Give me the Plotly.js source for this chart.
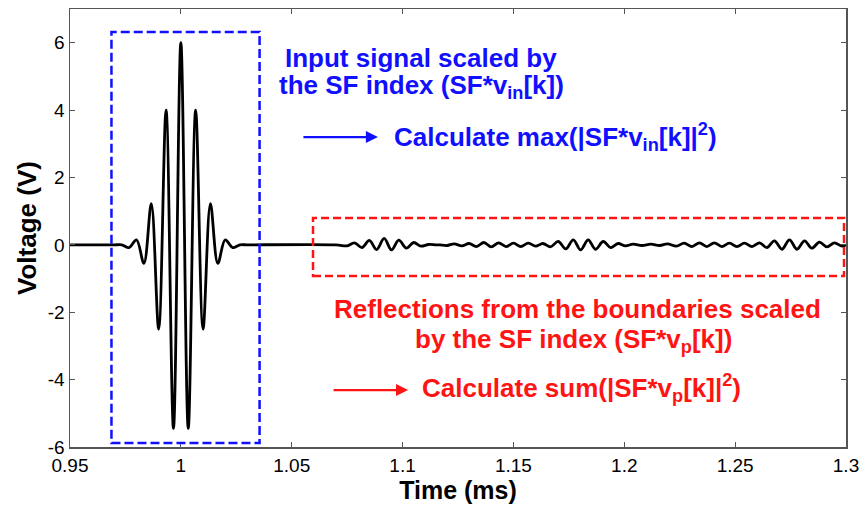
<!DOCTYPE html>
<html>
<head>
<meta charset="utf-8">
<script src="https://cdn.plot.ly/plotly-3.0.1.min.js"></script>
<style>
  html, body { margin: 0; padding: 0; background: #fff; }
  #chart { width: 865px; height: 508px; }
</style>
</head>
<body>
<div id="chart"></div>
<script>
// Received voltage: input burst near 1 ms, then boundary reflections (extrema of the trace)
const timeMs = [
  0.95, 0.97, 0.97333, 0.97667, 0.98, 0.98333, 0.98667, 0.99, 0.99333, 0.99667,
  1.0, 1.00333, 1.00667, 1.01, 1.01333, 1.01667, 1.02, 1.02333, 1.02667, 1.03,
  1.07, 1.075, 1.0783, 1.0817, 1.085, 1.0883, 1.0917, 1.095, 1.0983, 1.1017,
  1.105, 1.1083, 1.1117, 1.115, 1.1167, 1.12, 1.1233, 1.1267, 1.13, 1.1333,
  1.1367, 1.14, 1.1433, 1.1467, 1.15, 1.1533, 1.1567, 1.16, 1.1633, 1.1667,
  1.1702, 1.1736, 1.177, 1.1803, 1.1837, 1.187, 1.1905, 1.1938, 1.1972, 1.2005,
  1.204, 1.208, 1.212, 1.216, 1.2195, 1.2235, 1.227, 1.2305, 1.2339, 1.2372,
  1.2406, 1.244, 1.2474, 1.2508, 1.2542, 1.2576, 1.261, 1.2643, 1.2677, 1.2711,
  1.2745, 1.2779, 1.2813, 1.2846, 1.288, 1.2914, 1.2948, 1.2982, 1.3
];
const voltage = [
  0, 0, 0, -0.08, 0.15, -0.55, 1.22, -2.5, 4.0, -5.45,
  6.0, -5.45, 4.0, -2.5, 1.22, -0.55, 0.15, -0.08, 0, 0,
  0, -0.03, 0.06, -0.08, 0.13, -0.14, 0.19, -0.15, 0.14, -0.1,
  0.07, -0.04, 0.01, 0, 0, -0.02, 0.03, -0.03, 0.04, -0.05,
  0.07, -0.06, 0.06, -0.05, 0.05, -0.05, 0.05, -0.04, 0.04, -0.06,
  0.1, -0.12, 0.15, -0.15, 0.15, -0.13, 0.1, -0.08, 0.04, -0.03,
  0.02, -0.02, 0.02, -0.02, 0.03, -0.04, 0.05, -0.05, 0.06, -0.05,
  0.06, -0.05, 0.05, -0.05, 0.05, -0.05, 0.06, -0.08, 0.12, -0.13,
  0.15, -0.13, 0.12, -0.1, 0.08, -0.06, 0.06, -0.04, 0
];

// Axis ticks
const xTickVals = [0.95, 1.0, 1.05, 1.1, 1.15, 1.2, 1.25, 1.3];
const xTickText = ['0.95', '1', '1.05', '1.1', '1.15', '1.2', '1.25', '1.3'];
const yTickVals = [-6, -4, -2, 0, 2, 4, 6];
const yTickText = ['-6', '-4', '-2', '0', '2', '4', '6'];

const FONT = 'Liberation Sans, Arial, Helvetica, sans-serif';
const BLUE = '#1010ff';
const RED = '#ff1414';
const AXIS = '#555555';

const trace = {
  x: timeMs,
  y: voltage,
  type: 'scatter',
  mode: 'lines',
  line: { color: '#000000', width: 2.8, shape: 'spline', smoothing: 1 },
  hoverinfo: 'x+y'
};

const axisCommon = {
  showline: true,
  mirror: 'ticks',
  linecolor: AXIS,
  linewidth: 1.5,
  ticks: 'inside',
  ticklen: 5,
  tickwidth: 1,
  tickcolor: AXIS,
  showgrid: false,
  zeroline: false,
  tickfont: { family: FONT, size: 19, color: '#000000' },
  automargin: false,
  tickmode: 'array'
};

const textFont = (color) => ({ family: FONT, size: 26, color: color, weight: 'bold' });

const layout = {
  width: 865,
  height: 508,
  margin: { l: 70, r: 19, t: 9, b: 61 },
  paper_bgcolor: '#ffffff',
  plot_bgcolor: '#ffffff',
  showlegend: false,
  xaxis: Object.assign({}, axisCommon, {
    range: [0.95, 1.3],
    tickvals: xTickVals,
    ticktext: xTickText,
    ticklabelstandoff: 1,
    title: { text: 'Time (ms)', font: { family: FONT, size: 25, color: '#000000', weight: 'bold' }, standoff: 4 }
  }),
  yaxis: Object.assign({}, axisCommon, {
    range: [-6, 7],
    tickvals: yTickVals,
    ticktext: yTickText,
    title: { text: 'Voltage (V)', font: { family: FONT, size: 26, color: '#000000', weight: 'bold' }, standoff: 3 }
  }),
  shapes: [
    // window around the input burst
    { type: 'rect', xref: 'x', yref: 'y', x0: 0.9687, x1: 1.0355, y0: -5.88, y1: 6.32,
      line: { color: BLUE, width: 2.5, dash: '9px,4px' }, fillcolor: 'rgba(0,0,0,0)' },
    // window around the reflections
    { type: 'rect', xref: 'x', yref: 'y', x0: 1.0596, x1: 1.2991, y0: -0.925, y1: 0.797,
      line: { color: RED, width: 2.5, dash: '8px,4px' }, fillcolor: 'rgba(0,0,0,0)' }
  ],
  annotations: [
    { xref: 'x', yref: 'y', x: 1.0461, y: 5.545, xanchor: 'left', yanchor: 'middle', showarrow: false,
      text: 'Input signal scaled by', font: textFont(BLUE) },
    { xref: 'x', yref: 'y', x: 1.0434, y: 4.70, xanchor: 'left', yanchor: 'middle', showarrow: false,
      text: 'the SF index (SF*v<sub>in</sub>[k])', font: textFont(BLUE) },
    { xref: 'x', yref: 'y', x: 1.0889, y: 3.20, ax: 1.0546, ay: 3.20, axref: 'x', ayref: 'y',
      text: '', showarrow: true, arrowhead: 2, arrowsize: 1.1, arrowwidth: 2.2, arrowcolor: BLUE, standoff: 0, startstandoff: 0 },
    { xref: 'x', yref: 'y', x: 1.0952, y: 3.20, xanchor: 'left', yanchor: 'middle', showarrow: false,
      text: 'Calculate max(|SF*v<sub>in</sub>[k]|<sup>2</sup>)', font: textFont(BLUE) },
    { xref: 'x', yref: 'y', x: 1.0682, y: -1.904, xanchor: 'left', yanchor: 'middle', showarrow: false,
      text: 'Reflections from the boundaries scaled', font: textFont(RED) },
    { xref: 'x', yref: 'y', x: 1.1047, y: -2.85, xanchor: 'left', yanchor: 'middle', showarrow: false,
      text: 'by the SF index (SF*v<sub>p</sub>[k])', font: textFont(RED) },
    { xref: 'x', yref: 'y', x: 1.1025, y: -4.309, ax: 1.0682, ay: -4.309, axref: 'x', ayref: 'y',
      text: '', showarrow: true, arrowhead: 2, arrowsize: 1.1, arrowwidth: 2.2, arrowcolor: RED, standoff: 0, startstandoff: 0 },
    { xref: 'x', yref: 'y', x: 1.1079, y: -4.25, xanchor: 'left', yanchor: 'middle', showarrow: false,
      text: 'Calculate sum(|SF*v<sub>p</sub>[k]|<sup>2</sup>)', font: textFont(RED) }
  ]
};

Plotly.newPlot('chart', [trace], layout, { displayModeBar: false, staticPlot: true });
</script>
</body>
</html>
